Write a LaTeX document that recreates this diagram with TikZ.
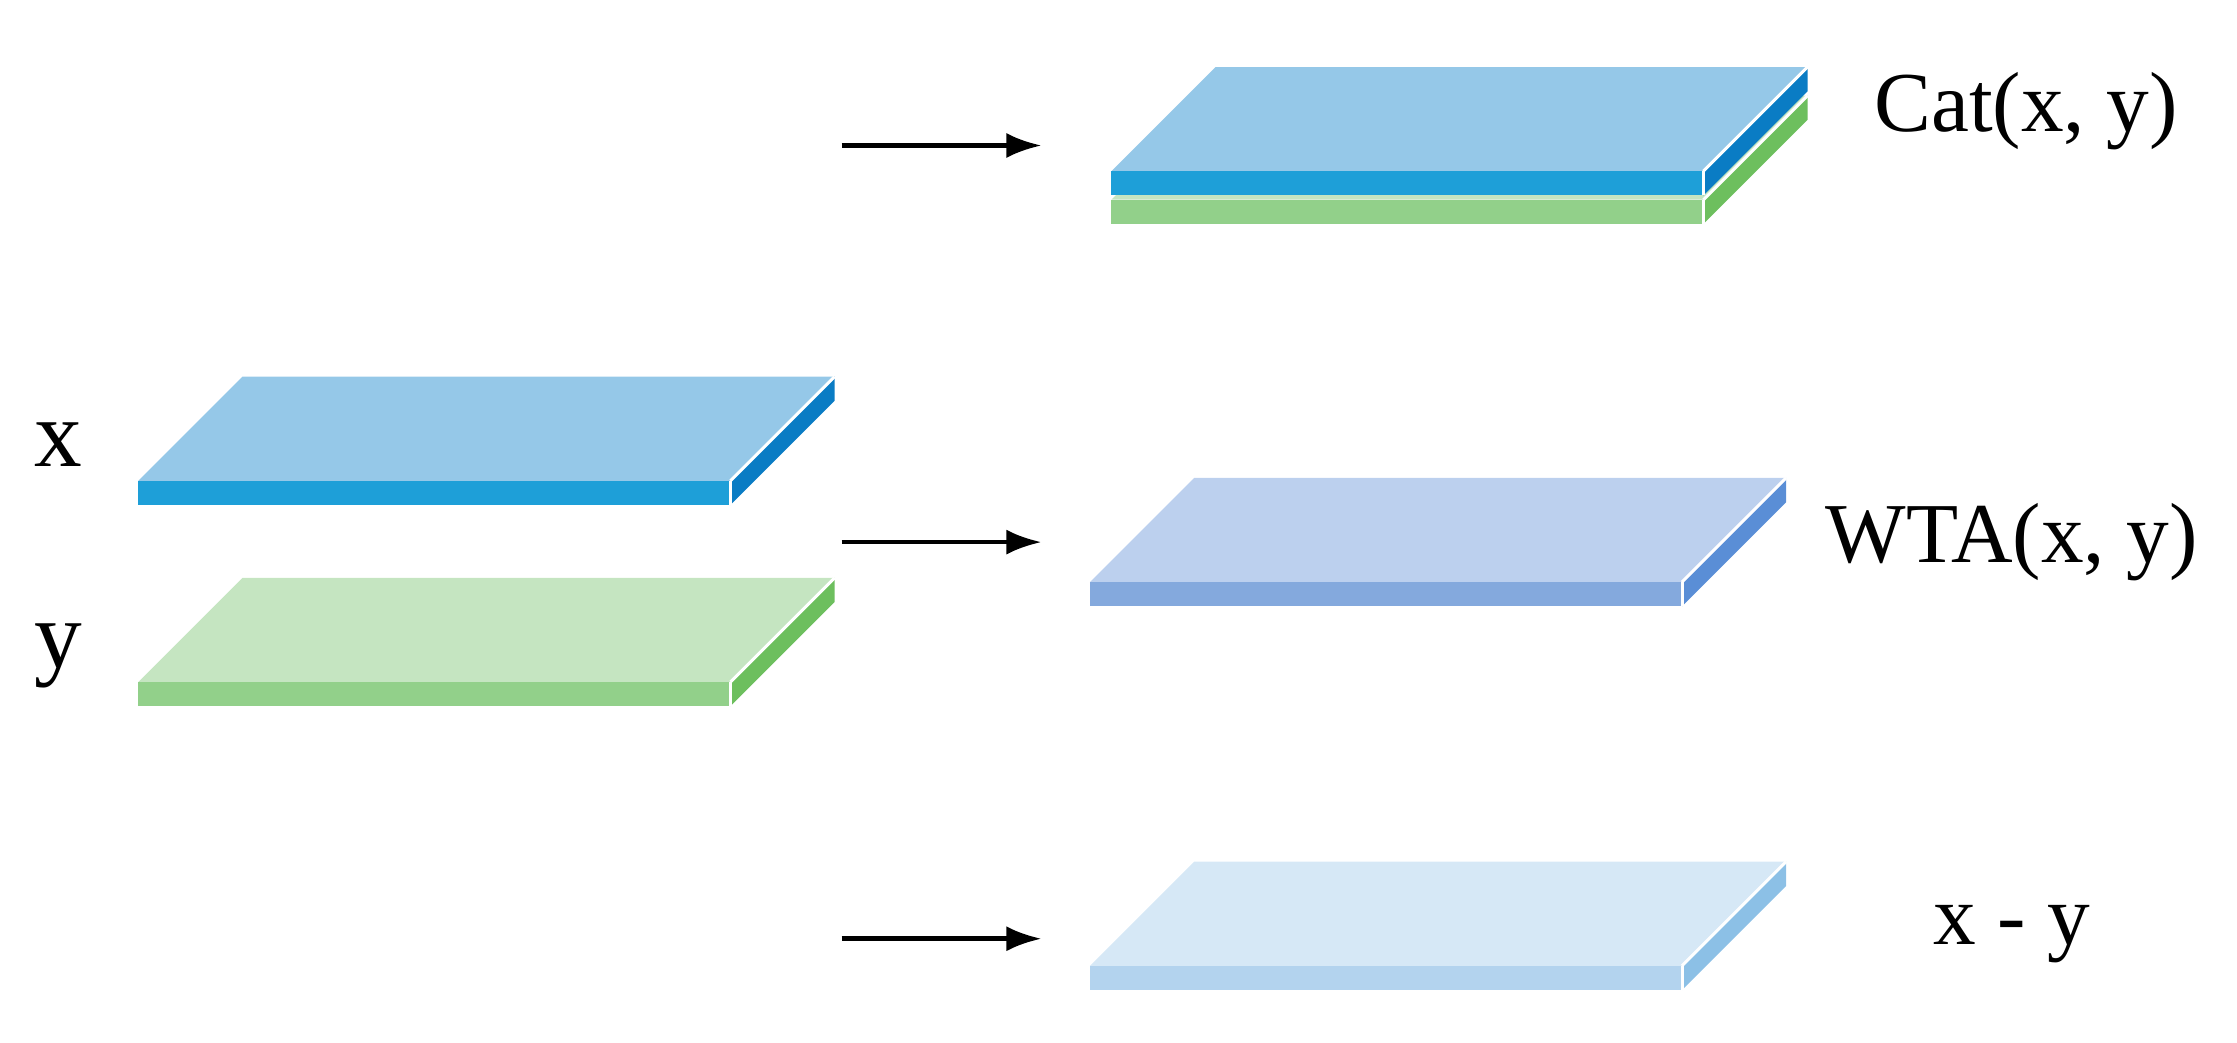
\documentclass[tikz,border=0pt]{standalone}
\usepackage{fontspec}
\setmainfont{Liberation Serif}
\usetikzlibrary{arrows.meta}
\definecolor{bT}{HTML}{95C8E8}\definecolor{bF}{HTML}{1E9FD8}\definecolor{bS}{HTML}{0A7CC4}
\definecolor{gT}{HTML}{C5E5C1}\definecolor{gF}{HTML}{92D08A}\definecolor{gS}{HTML}{6DBF5E}
\definecolor{wT}{HTML}{BCD0EE}\definecolor{wF}{HTML}{84A9DD}\definecolor{wS}{HTML}{5A8ED6}
\definecolor{dT}{HTML}{D6E8F6}\definecolor{dF}{HTML}{B3D3EE}\definecolor{dS}{HTML}{8CC0E6}
% #1,#2 front-left top corner; #3 top, #4 front, #5 side
\newcommand{\myslab}[5]{%
  \fill[#3] (#1,#2) -- ++(415,0) -- ++(73,-73) -- ++(-415,0) -- cycle;
  \fill[#4] (#1,#2) rectangle ++(415,17);
  \fill[#5] (#1+415,#2) -- ++(73,-73) -- ++(0,17) -- ++(-73,73) -- cycle;
  \draw[white,line width=0.6pt] (#1+415,#2) -- ++(73,-73);
  \draw[white,line width=0.6pt] (#1+415,#2) -- ++(0,17);
}
\tikzset{arr/.style={-{Latex[length=7pt,width=5pt]},line width=0.9pt},
 lab/.style={font=\fontsize{17}{20}\selectfont},
 big/.style={font=\fontsize{19}{23}\selectfont}}
\begin{document}
\begin{tikzpicture}[x=0.01cm,y=-0.01cm]
\useasboundingbox (0,0) rectangle (1568,731);
\myslab{97}{337}{bT}{bF}{bS}
\myslab{97}{478}{gT}{gF}{gS}
\myslab{779}{140}{gT}{gF}{gS}
\myslab{779}{120}{bT}{bF}{bS}
\myslab{764}{408}{wT}{wF}{wS}
\myslab{764}{677}{dT}{dF}{dS}
\node[big] (x) at (41,312) {x};
\node[big] (y) at (41,460) {y};
\node[lab] (cat) at (1420,78) {Cat(x, y)};
\node[lab] (wta) at (1410,380) {WTA(x, y)};
\node[lab] (diff) at (1410,655) {x - y};
\coordinate (a1) at (590,102); \coordinate (b1) at (730,102);
\coordinate (a2) at (590,380); \coordinate (b2) at (730,380);
\coordinate (a3) at (590,658); \coordinate (b3) at (730,658);
\draw[arr] (a1) -- (b1);
\draw[arr] (a2) -- (b2);
\draw[arr] (a3) -- (b3);
\end{tikzpicture}
\end{document}
